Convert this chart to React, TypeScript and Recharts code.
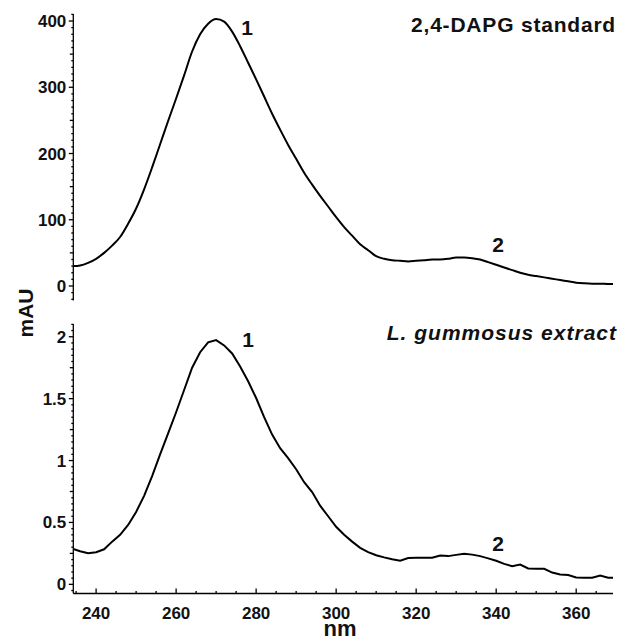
import React from "react";
import { LineChart, Line, XAxis, YAxis } from "recharts";

// wavelengths (nm)
const wavelengths = [
  234.3, 236, 238, 240, 242, 244, 246, 248, 250, 252, 254, 256, 258, 260, 262, 264, 266, 268, 270,
  272, 274, 276, 278, 280, 282, 284, 286, 288, 290, 292, 294, 296, 298, 300, 302, 304, 306, 308,
  310, 312, 314, 316, 318, 320, 322, 324, 326, 328, 330, 332, 334, 336, 338, 340, 342, 344, 346,
  348, 350, 352, 354, 356, 358, 360, 362, 364, 366, 368, 369.2,
];

// 2,4-DAPG standard (mAU)
const standardValues = [
  30, 31, 35, 41, 50, 61, 74, 94, 117, 146, 179, 214, 249, 283, 318, 354, 380, 396, 403,
  399, 384, 362, 337, 312, 286, 260, 236, 213, 192, 171, 153, 136, 120, 104, 89, 76, 63, 54,
  45, 41, 39, 38, 37, 38, 39, 40, 40, 41, 43, 43, 42, 40, 36, 32, 28, 24, 20,
  17, 15, 13, 11, 9, 7, 5, 4, 3.5, 3.5, 3, 3,
];

// L. gummosus extract (mAU)
const extractValues = [
  0.285, 0.268, 0.252, 0.26, 0.283, 0.345, 0.4, 0.48, 0.585, 0.715, 0.875, 1.05, 1.22, 1.39, 1.57, 1.75, 1.875, 1.955, 1.973,
  1.93, 1.865, 1.76, 1.64, 1.505, 1.35, 1.21, 1.1, 1.02, 0.93, 0.825, 0.745, 0.635, 0.55, 0.465, 0.4, 0.345, 0.295, 0.26,
  0.235, 0.218, 0.203, 0.19, 0.212, 0.215, 0.215, 0.215, 0.233, 0.228, 0.238, 0.247, 0.24, 0.228, 0.21, 0.19, 0.165, 0.147, 0.16,
  0.128, 0.126, 0.125, 0.095, 0.08, 0.076, 0.056, 0.054, 0.054, 0.072, 0.054, 0.054,
];

// tick labels
const xTickLabels = [240, 260, 280, 300, 320, 340, 360];
const yTopTickLabels = [0, 100, 200, 300, 400];
const yBottomTickLabels = [0, 0.5, 1, 1.5, 2];

const xMinorTicks: number[] = [];
for (let v = 235; v <= 365; v += 5) xMinorTicks.push(v);
const yTopMinorTicks: number[] = [];
for (let v = -20; v <= 410; v += 10) yTopMinorTicks.push(v);
const yBottomMinorTicks: number[] = [];
for (let i = -1; i <= 42; i++) yBottomMinorTicks.push(Math.round(i * 5) / 100);

const topData = wavelengths.map((nm, i) => ({ nm, v: standardValues[i] }));
const bottomData = wavelengths.map((nm, i) => ({ nm, v: extractValues[i] }));

const FONT = "'Liberation Sans', Arial, Helvetica, sans-serif";
const X_DOMAIN: [number, number] = [234.3, 369.2];

const XTick = (props: any) => {
  const { x, y, payload, showLabel } = props;
  const val = payload.value;
  const isMajor = xTickLabels.includes(val);
  const len = isMajor ? 5 : 2.5;
  return (
    <g>
      <line x1={x} x2={x} y1={y} y2={y - len} stroke="#000" strokeWidth={1.3} />
      {showLabel && isMajor ? (
        <text x={x} y={y + 25.5} textAnchor="middle" fontFamily={FONT} fontWeight="bold" fontSize={17} fill="#111">
          {val}
        </text>
      ) : null}
    </g>
  );
};

const YTick = (props: any) => {
  const { x, y, payload, midStep, labels } = props;
  const val = payload.value;
  const near = (a: number, s: number) => Math.abs(a / s - Math.round(a / s)) < 1e-6;
  const isMajor = labels.some((l: number) => Math.abs(l - val) < 1e-6);
  const isMid = !isMajor && near(val, midStep);
  const len = isMajor ? 4.5 : isMid ? 3.5 : 2;
  return (
    <g>
      <line x1={x} x2={x - len} y1={y} y2={y} stroke="#000" strokeWidth={1.3} />
      {isMajor ? (
        <text x={x - 7} y={y + 6} textAnchor="end" fontFamily={FONT} fontWeight="bold" fontSize={17} fill="#111">
          {val}
        </text>
      ) : null}
    </g>
  );
};

const axisLine = { stroke: "#000", strokeWidth: 1.3 };

export default function App() {
  return (
    <div style={{ position: "absolute", left: 0, top: 0, width: 630, height: 640, background: "#fff", overflow: "hidden" }}>
      <div style={{ position: "absolute", left: 0, top: 0 }}>
        <LineChart width={630} height={310} data={topData} margin={{ top: 14, right: 17, bottom: 9.5, left: 0 }}>
          <XAxis
            dataKey="nm"
            type="number"
            domain={X_DOMAIN}
            allowDataOverflow
            ticks={xMinorTicks}
            interval={0}
            tickSize={0}
            tickMargin={0}
            height={0}
            axisLine={axisLine}
            tickLine={false}
            tick={<XTick showLabel={false} />}
          />
          <YAxis
            type="number"
            domain={[-21.9, 410.6]}
            allowDataOverflow
            ticks={yTopMinorTicks}
            interval={0}
            tickSize={0}
            tickMargin={0}
            width={73.3}
            axisLine={axisLine}
            tickLine={false}
            tick={<YTick midStep={50} labels={yTopTickLabels} />}
          />
          <Line type="monotone" dataKey="v" stroke="#000" strokeWidth={2} dot={false} isAnimationActive={false} />
        </LineChart>
      </div>
      <div style={{ position: "absolute", left: 0, top: 310 }}>
        <LineChart width={630} height={330} data={bottomData} margin={{ top: 14, right: 17, bottom: 0, left: 0 }}>
          <XAxis
            dataKey="nm"
            type="number"
            domain={X_DOMAIN}
            allowDataOverflow
            ticks={xMinorTicks}
            interval={0}
            tickSize={0}
            tickMargin={0}
            height={46.5}
            axisLine={axisLine}
            tickLine={false}
            tick={<XTick showLabel={true} />}
          />
          <YAxis
            type="number"
            domain={[-0.074, 2.103]}
            allowDataOverflow
            ticks={yBottomMinorTicks}
            interval={0}
            tickSize={0}
            tickMargin={0}
            width={73.3}
            axisLine={axisLine}
            tickLine={false}
            tick={<YTick midStep={0.25} labels={yBottomTickLabels} />}
          />
          <Line type="linear" dataKey="v" stroke="#000" strokeWidth={2} dot={false} isAnimationActive={false} />
        </LineChart>
      </div>
      <svg width={630} height={640} style={{ position: "absolute", left: 0, top: 0, pointerEvents: "none" }}>
        <text x={616} y={31.5} textAnchor="end" fontFamily={FONT} fontWeight="bold" fontSize={21} letterSpacing={0.8} fill="#111">
          2,4-DAPG standard
        </text>
        <text x={617} y={340} textAnchor="end" fontFamily={FONT} fontWeight="bold" fontStyle="italic" fontSize={21} letterSpacing={1} fill="#111">
          L. gummosus extract
        </text>
        <text x={247} y={35} textAnchor="middle" fontFamily={FONT} fontWeight="bold" fontSize={21} fill="#111">1</text>
        <text x={498} y={252} textAnchor="middle" fontFamily={FONT} fontWeight="bold" fontSize={21} fill="#111">2</text>
        <text x={248} y={346.5} textAnchor="middle" fontFamily={FONT} fontWeight="bold" fontSize={21} fill="#111">1</text>
        <text x={498} y={551} textAnchor="middle" fontFamily={FONT} fontWeight="bold" fontSize={21} fill="#111">2</text>
        <text x={340} y={635.5} textAnchor="middle" fontFamily={FONT} fontWeight="bold" fontSize={22} fill="#111">nm</text>
        <text
          x={0}
          y={0}
          transform="translate(33,313) rotate(-90)"
          textAnchor="middle"
          fontFamily={FONT}
          fontWeight="bold"
          fontSize={21}
          fill="#111"
        >
          mAU
        </text>
      </svg>
    </div>
  );
}
